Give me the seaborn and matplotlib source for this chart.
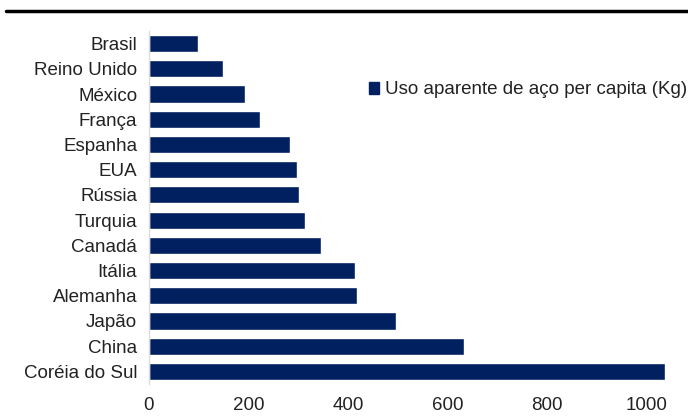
import numpy as np
import pandas as pd
import seaborn as sns
import matplotlib.pyplot as plt
from matplotlib.lines import Line2D
from matplotlib.patches import Patch

paises = ['Brasil', 'Reino Unido', 'México', 'França', 'Espanha', 'EUA', 'Rússia',
          'Turquia', 'Canadá', 'Itália', 'Alemanha', 'Japão', 'China', 'Coréia do Sul']
consumo = [98, 149, 193, 223, 284, 298, 301, 313, 346, 414, 418, 497, 634, 1038]
serie = 'Uso aparente de aço per capita (Kg)'
cor = '#002060'

df = pd.DataFrame({'pais': paises, 'kg': consumo})

sns.set_style('white')
plt.rcParams['font.family'] = ['Liberation Sans', 'DejaVu Sans']

fig = plt.figure(figsize=(6.88, 4.16), dpi=100)
ax = fig.add_axes([149/688, 1 - 384/416, (686 - 149)/688, (384 - 31)/416])
sns.barplot(data=df, x='kg', y='pais', color=cor, width=0.68, saturation=1, ax=ax)

ax.set_xlim(0, 1080)
ax.set_xticks([0, 200, 400, 600, 800, 1000])
ax.set_xlabel('')
ax.set_ylabel('')
ax.tick_params(axis='both', labelsize=13.5, colors='#222222', length=0)
ax.tick_params(axis='y', pad=8.5)
ax.tick_params(axis='x', pad=9)
for s in ['top', 'right', 'bottom']:
    ax.spines[s].set_visible(False)
ax.spines['left'].set_color('#dddddd')
ax.spines['left'].set_linewidth(1)

leg = ax.legend(handles=[Patch(color=cor, label=serie)], loc='center left',
                bbox_to_anchor=(369/688, 1 - 90/416), bbox_transform=fig.transFigure,
                frameon=False, fontsize=13.5, handlelength=0.55, handleheight=0.6,
                handletextpad=0.3, borderaxespad=0, borderpad=0)
for t in leg.get_texts():
    t.set_color('#222222')

fig.add_artist(Line2D([6/688, 1], [1 - 11/416, 1 - 11/416], color='black', linewidth=2.5,
                      transform=fig.transFigure))

fig.savefig('out.png', dpi=100)
